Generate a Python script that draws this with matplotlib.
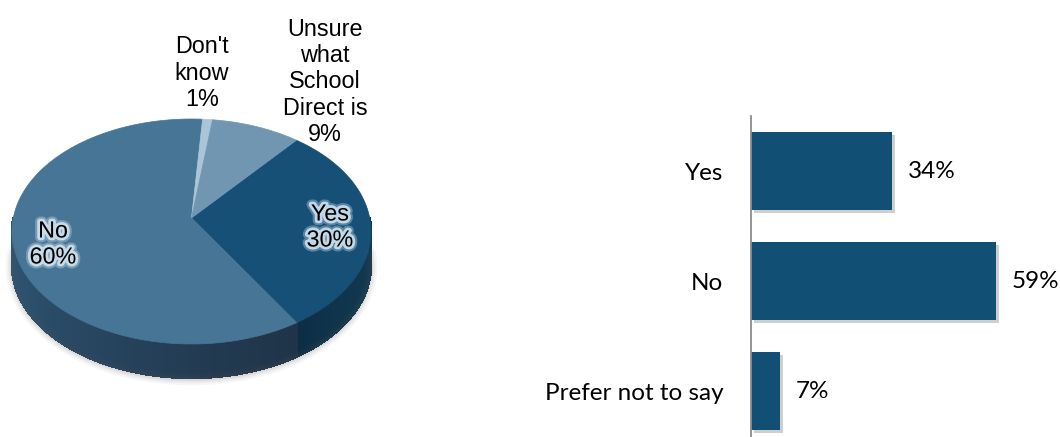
import numpy as np
import matplotlib
matplotlib.use("Agg")
import matplotlib.pyplot as plt
import matplotlib.patheffects as pe
from matplotlib.collections import PolyCollection

# pie: does the respondent know about School Direct
pie_labels = ["Yes", "No", "Don't\nknow", "Unsure\nwhat\nSchool\nDirect is"]
pie_values = [30, 60, 1, 9]
pie_top = ["#165076", "#477596", "#aac4d8", "#7096b2"]
pie_side_left = ["#0c2b42", "#2f5676", "#8fa9bd", "#57809e"]
pie_side_right = ["#10384f", "#1f3448", "#8fa9bd", "#57809e"]

# bars
bar_cats = ["Yes", "No", "Prefer not to say"]
bar_values = [34, 59, 7]

W, H = 1060, 437
fig = plt.figure(figsize=(W / 100, H / 100), dpi=100)

# pixel-space axes for the 3d pie
ax = fig.add_axes([0, 0, 1, 1])
ax.set_xlim(0, W)
ax.set_ylim(H, 0)
ax.axis("off")

CX, A = 191.5, 178.2
Y0, ALPHA, G = 218.0, -84.72, 0.12
DEPTH = 34


def project(t_deg):
    t = np.radians(t_deg)
    u, v = np.cos(t), np.sin(t)
    den = 1 + G * v
    return CX + A * u / den, (ALPHA * v + Y0) / den


# slice angle ranges, clockwise from 50 deg
start = 50.0
bounds = []
for val in pie_values:
    span = val / sum(pie_values) * 360
    bounds.append((start - span, start))
    start -= span

# soft shadow under the pie
tb = np.linspace(180, 360, 200)
bx, by = project(tb)
for lw, a in [(9, 0.05), (6, 0.07), (3, 0.1)]:
    ax.plot(bx, by + DEPTH + 1, color="#555555", lw=lw, alpha=a, solid_capstyle="round")

# side of the pie, front half only, shaded left to right
strips, colors = [], []
for (lo, hi), cl, cr in zip(bounds, pie_side_left, pie_side_right):
    lo_m, hi_m = lo % 360, lo % 360 + (hi - lo)
    c0 = np.array(matplotlib.colors.to_rgb(cl))
    c1 = np.array(matplotlib.colors.to_rgb(cr))
    for off in (0, 360, -360):
        a0, a1 = max(lo_m + off, 180), min(hi_m + off, 360)
        if a1 <= a0:
            continue
        ts = np.linspace(a0, a1, max(int(a1 - a0) * 3, 2))
        xs, ys = project(ts)
        span = max(xs.max() - xs.min(), 1)
        for i in range(len(ts) - 1):
            strips.append([(xs[i], ys[i]), (xs[i + 1], ys[i + 1]),
                           (xs[i + 1], ys[i + 1] + DEPTH), (xs[i], ys[i] + DEPTH)])
            f = np.clip((xs[i] - xs.min()) / span, 0, 1) ** 0.6
            colors.append(c0 + (c1 - c0) * f)
ax.add_collection(PolyCollection(strips, facecolors=colors, edgecolors=colors,
                                 linewidths=1.0, antialiased=False))

# top faces
for (lo, hi), col in zip(bounds, pie_top):
    ts = np.linspace(lo, hi, 200)
    xs, ys = project(ts)
    ax.fill(np.r_[CX, xs], np.r_[Y0, ys], color=col, lw=0.5, ec=col)

pie_font = dict(family="Liberation Sans", fontsize=16.8, linespacing=1.17,
                ha="center", va="center")
glow = [pe.withStroke(linewidth=7, foreground="#d6e6f0", alpha=0.35),
        pe.withStroke(linewidth=4, foreground="#cfe1ee", alpha=0.9)]

pct = ["%d%%" % v for v in pie_values]
ax.text(330, 227, pie_labels[0] + "\n" + pct[0], path_effects=glow, **pie_font)
ax.text(53, 244, pie_labels[1] + "\n" + pct[1], path_effects=glow, **pie_font)
ax.text(202, 73, pie_labels[2] + "\n" + pct[2], **pie_font)
ax.text(325, 82, pie_labels[3] + "\n" + pct[3], **pie_font)

# bar chart
PX = 4.16
axb = fig.add_axes([751 / W, 0, 300 / W, 321 / H])
y = np.arange(len(bar_cats))
bars = axb.barh(y, bar_values, height=78 / 110, color="#124f75")
for b in bars:
    b.set_path_effects([pe.SimplePatchShadow(offset=(2, -2), shadow_rgbFace="#777777", alpha=0.35),
                        pe.Normal()])
axb.set_xlim(0, 300 / PX)
axb.set_ylim(2 + 46 / 110, -0.5)
axb.set_yticks(y)
axb.set_yticklabels(bar_cats, family="Lato", fontsize=17.5)
axb.tick_params(axis="y", length=0, pad=20)
axb.set_xticks([])
for s in ["top", "right", "bottom"]:
    axb.spines[s].set_visible(False)
axb.spines["left"].set_color("#8c8c8c")
axb.spines["left"].set_linewidth(1.3)
axb.patch.set_alpha(0)
for yi, v in zip(y, bar_values):
    axb.annotate("%d%%" % v, (v, yi), xytext=(11, 0), textcoords="offset points",
                 ha="left", va="center", family="Lato", fontsize=17.5)

fig.savefig("out.png", dpi=100)
